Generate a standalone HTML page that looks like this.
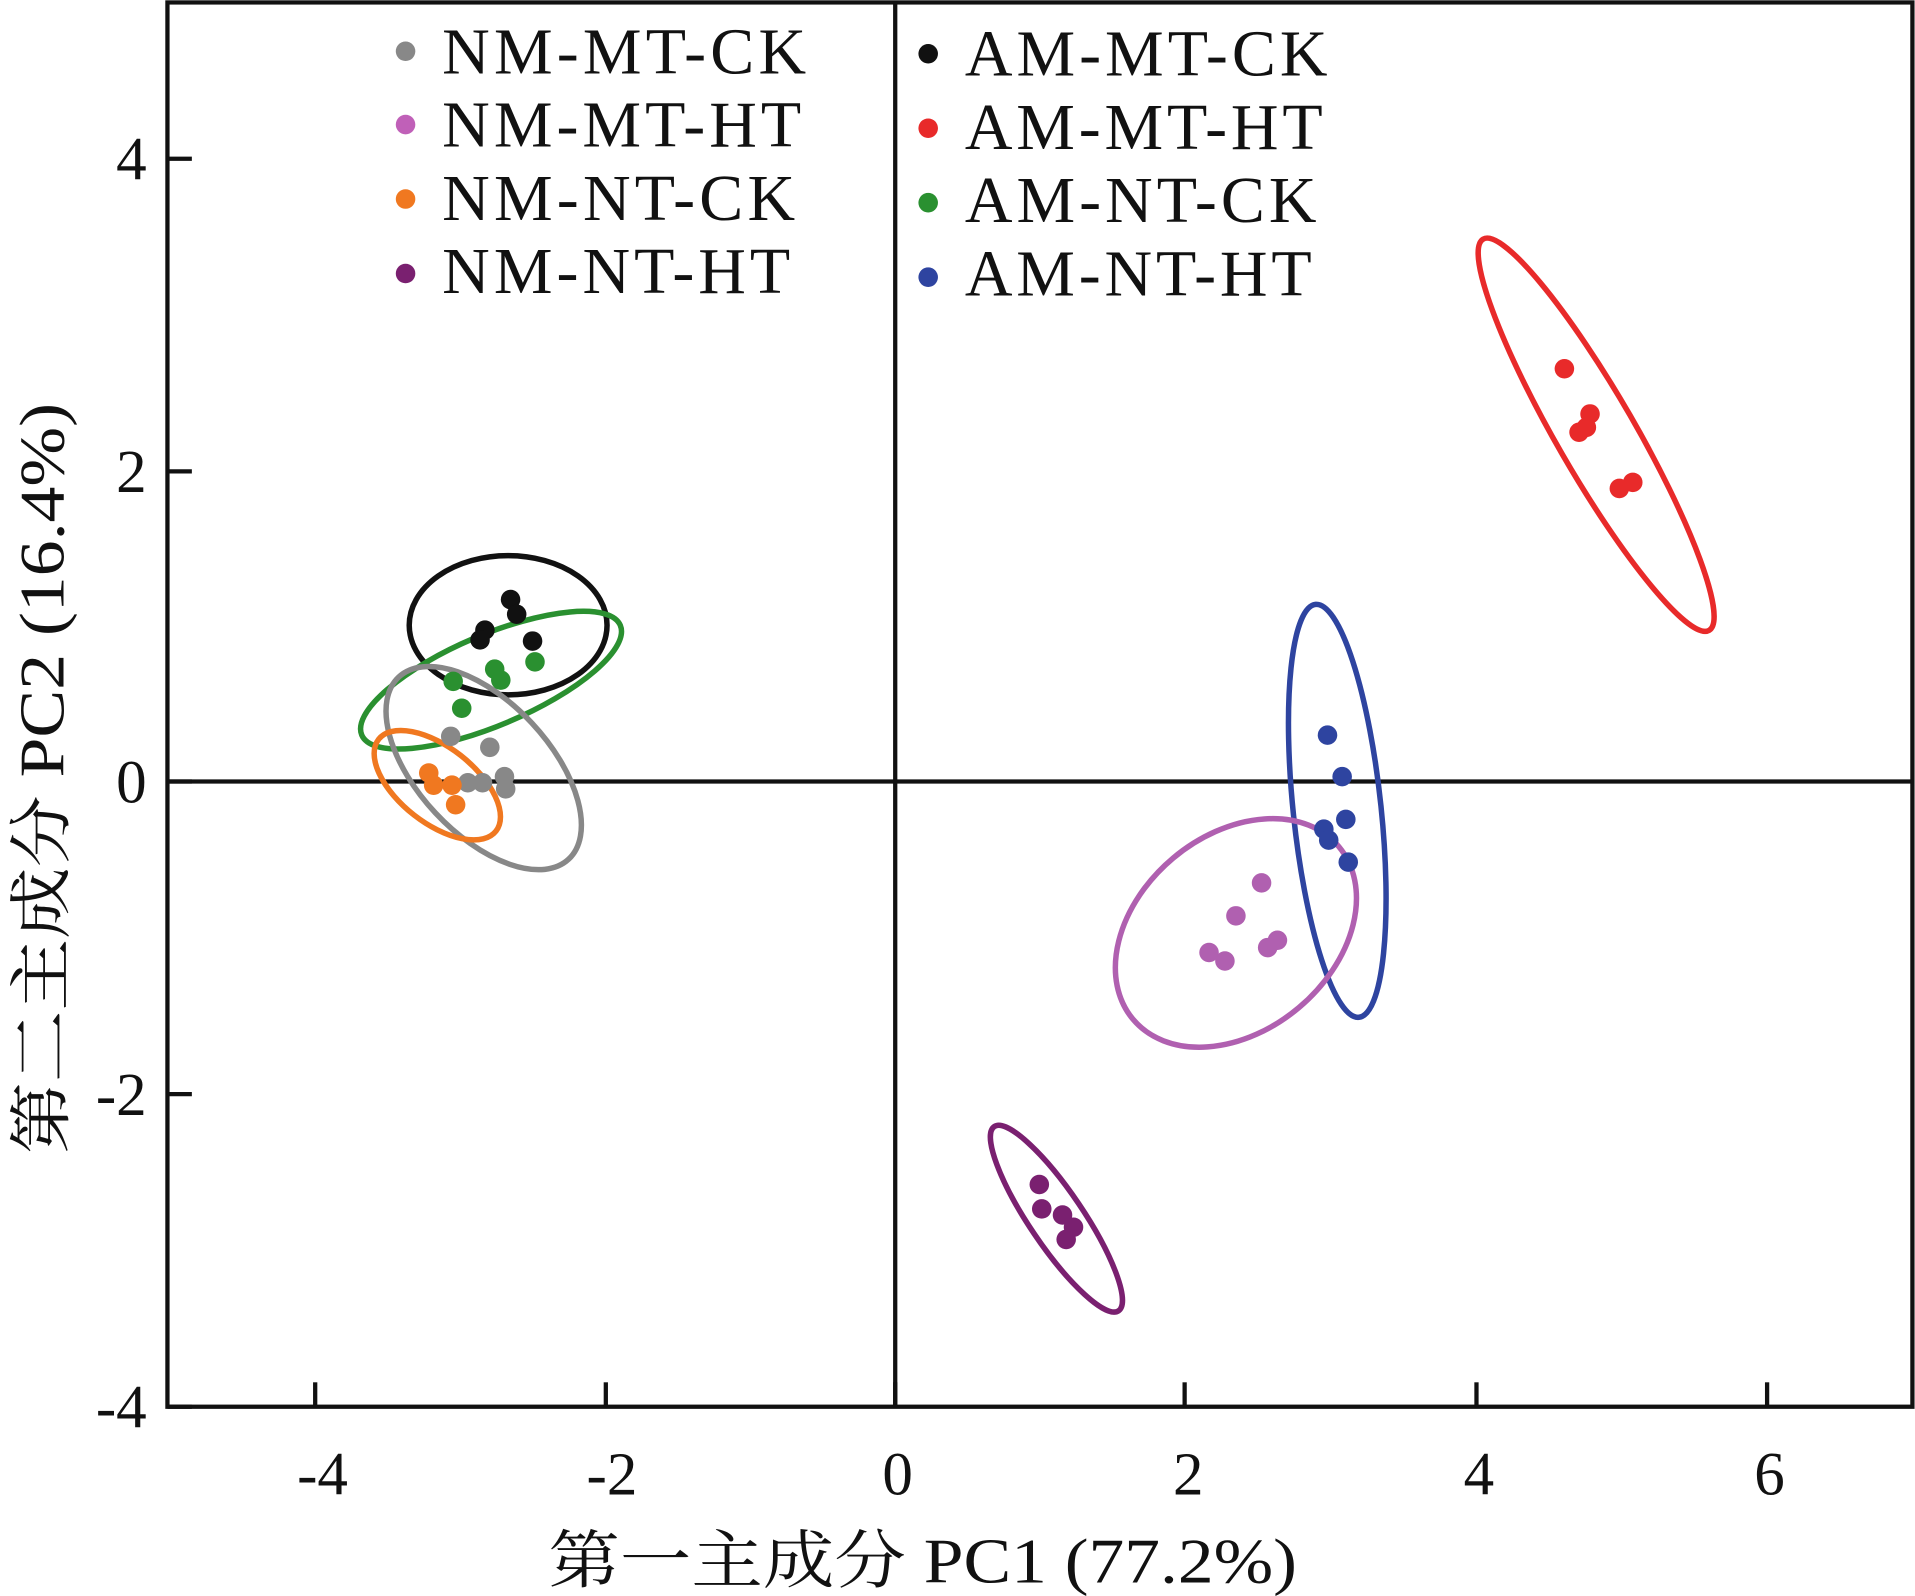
<!DOCTYPE html>
<html><head><style>body{margin:0;background:#fff}svg{display:block}</style></head><body>
<svg width="1915" height="1596" viewBox="0 0 1568 1307" xmlns="http://www.w3.org/2000/svg" font-family="'Liberation Serif','Noto Serif CJK SC',serif">
<rect x="137" y="2" width="1429" height="1150" fill="none" stroke="#111" stroke-width="3.5"/>
<line x1="733" y1="2" x2="733" y2="1152" stroke="#111" stroke-width="3.5"/>
<line x1="137" y1="640" x2="1566" y2="640" stroke="#111" stroke-width="3.5"/>
<g stroke="#111" stroke-width="3.5">
<line x1="258" y1="1152" x2="258" y2="1132"/><line x1="496" y1="1152" x2="496" y2="1132"/><line x1="733" y1="1152" x2="733" y2="1132"/><line x1="970" y1="1152" x2="970" y2="1132"/><line x1="1209" y1="1152" x2="1209" y2="1132"/><line x1="1447" y1="1152" x2="1447" y2="1132"/>
<line x1="137" y1="130" x2="157" y2="130"/><line x1="137" y1="386" x2="157" y2="386"/><line x1="137" y1="640" x2="157" y2="640"/><line x1="137" y1="896" x2="157" y2="896"/><line x1="137" y1="1152" x2="157" y2="1152"/>
</g>
<g font-size="50" fill="#111" text-anchor="middle">
<text x="264" y="1224">-4</text><text x="501" y="1224">-2</text><text x="735" y="1224">0</text><text x="973" y="1224">2</text><text x="1211" y="1224">4</text><text x="1449" y="1224">6</text>
</g>
<g font-size="50" fill="#111" text-anchor="end">
<text x="120" y="147">4</text><text x="120" y="403">2</text><text x="120" y="657">0</text><text x="120" y="913">-2</text><text x="120" y="1169">-4</text>
</g>
<text x="449" y="1296" font-size="52" textLength="613" lengthAdjust="spacingAndGlyphs" fill="#111">第一主成分 PC1 (77.2%)</text>
<text transform="translate(52,945) rotate(-90)" font-size="52" textLength="615" lengthAdjust="spacingAndGlyphs" fill="#111">第二主成分 PC2 (16.4%)</text>
<g font-size="54" fill="#111" lengthAdjust="spacingAndGlyphs">
<text x="362" y="60" textLength="298">NM-MT-CK</text><text x="362" y="120" textLength="294">NM-MT-HT</text><text x="362" y="180" textLength="289">NM-NT-CK</text><text x="362" y="240" textLength="285">NM-NT-HT</text>
<text x="790" y="62" textLength="297">AM-MT-CK</text><text x="790" y="122" textLength="293">AM-MT-HT</text><text x="790" y="182" textLength="288">AM-NT-CK</text><text x="790" y="242" textLength="284">AM-NT-HT</text>
</g>
<circle cx="332" cy="42" r="8" fill="#888"/><circle cx="332" cy="102" r="8" fill="#c060b8"/><circle cx="332" cy="163" r="8" fill="#f07820"/><circle cx="332" cy="224" r="8" fill="#7a2070"/>
<circle cx="760" cy="44" r="8" fill="#111"/><circle cx="760" cy="105" r="8" fill="#e82a2a"/><circle cx="760" cy="166" r="8" fill="#2a9030"/><circle cx="760" cy="227" r="8" fill="#2e44a0"/>
<g fill="none" stroke-width="4.5">
<ellipse cx="416" cy="512" rx="81" ry="57" stroke="#111"/>
<ellipse cx="402" cy="557" rx="115" ry="37" transform="rotate(-23 402 557)" stroke="#2a9030"/>
<ellipse cx="396" cy="629" rx="102" ry="54" transform="rotate(47 396 629)" stroke="#888"/>
<ellipse cx="358" cy="643" rx="61" ry="31" transform="rotate(38 358 643)" stroke="#f07820"/>
<ellipse cx="1307" cy="356" rx="185" ry="32" transform="rotate(60 1307 356)" stroke="#e82a2a"/>
<ellipse cx="1095" cy="664" rx="170" ry="36" transform="rotate(84 1095 664)" stroke="#2e44a0"/>
<ellipse cx="1012" cy="764" rx="110" ry="80" transform="rotate(-40 1012 764)" stroke="#b060b0"/>
<ellipse cx="865" cy="998" rx="91" ry="22" transform="rotate(56 865 998)" stroke="#7a2070"/>
</g>
<g fill="#111"><circle cx="418" cy="491" r="8"/><circle cx="423" cy="503" r="8"/><circle cx="397" cy="516" r="8"/><circle cx="393" cy="524" r="8"/><circle cx="436" cy="525" r="8"/></g>
<g fill="#2a9030"><circle cx="405" cy="548" r="8"/><circle cx="410" cy="557" r="8"/><circle cx="438" cy="542" r="8"/><circle cx="371" cy="558" r="8"/><circle cx="378" cy="580" r="8"/></g>
<g fill="#888"><circle cx="369" cy="603" r="8"/><circle cx="401" cy="612" r="8"/><circle cx="383" cy="641" r="8"/><circle cx="395" cy="641" r="8"/><circle cx="413" cy="636" r="8"/><circle cx="414" cy="646" r="8"/></g>
<g fill="#f07820"><circle cx="351" cy="633" r="8"/><circle cx="355" cy="643" r="8"/><circle cx="370" cy="643" r="8"/><circle cx="373" cy="659" r="8"/></g>
<g fill="#e82a2a"><circle cx="1281" cy="302" r="8"/><circle cx="1302" cy="339" r="8"/><circle cx="1299" cy="350" r="8"/><circle cx="1293" cy="354" r="8"/><circle cx="1337" cy="395" r="8"/><circle cx="1326" cy="400" r="8"/></g>
<g fill="#2e44a0"><circle cx="1087" cy="602" r="8"/><circle cx="1099" cy="636" r="8"/><circle cx="1102" cy="671" r="8"/><circle cx="1084" cy="679" r="8"/><circle cx="1088" cy="688" r="8"/><circle cx="1104" cy="706" r="8"/></g>
<g fill="#b060b0"><circle cx="1033" cy="723" r="8"/><circle cx="1012" cy="750" r="8"/><circle cx="1046" cy="770" r="8"/><circle cx="1038" cy="776" r="8"/><circle cx="990" cy="780" r="8"/><circle cx="1003" cy="787" r="8"/></g>
<g fill="#7a2070"><circle cx="851" cy="970" r="8"/><circle cx="853" cy="990" r="8"/><circle cx="870" cy="995" r="8"/><circle cx="879" cy="1005" r="8"/><circle cx="873" cy="1015" r="8"/></g>
</svg>
</body></html>
